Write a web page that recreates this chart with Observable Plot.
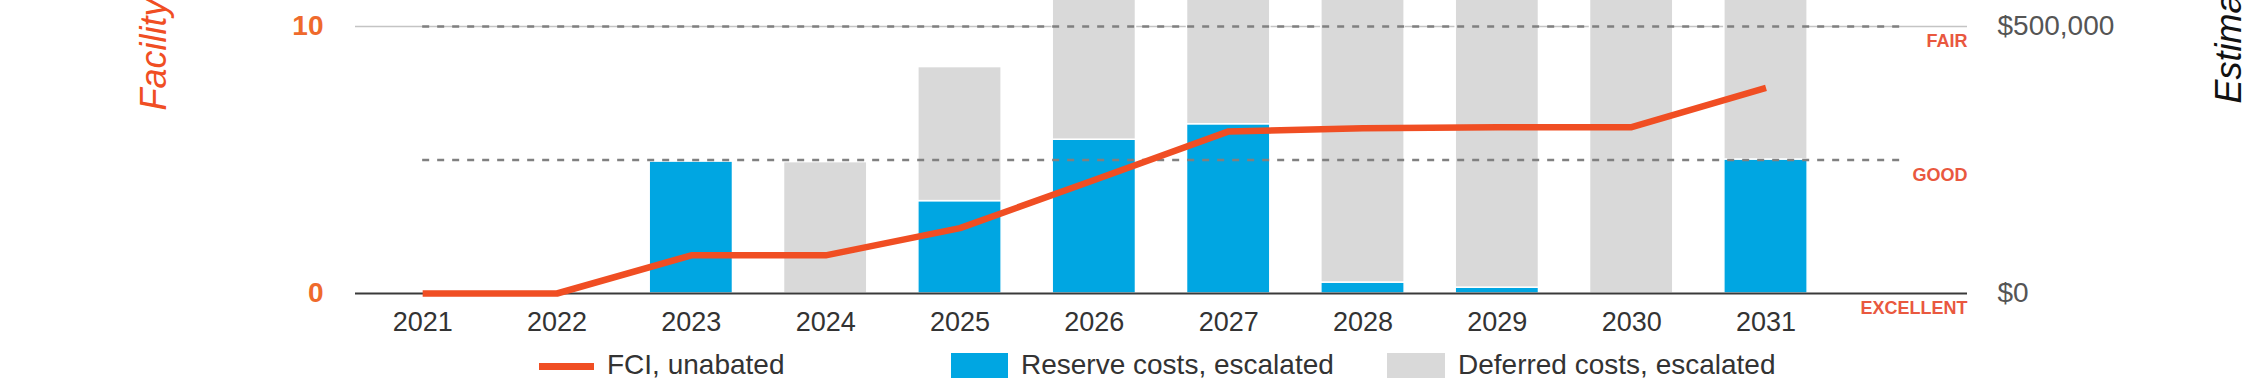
<!DOCTYPE html>
<html>
<head>
<meta charset="utf-8">
<script src="https://cdn.jsdelivr.net/npm/d3@7"></script>
<script src="https://cdn.jsdelivr.net/npm/@observablehq/plot@0.6"></script>
<style>
  html, body { margin: 0; padding: 0; background: #fff; }
  body { width: 2252px; height: 388px; overflow: hidden; font-family: "Liberation Sans", Arial, sans-serif; }
  #chart svg { display: block; }
  #legend { position: relative; width: 2252px; height: 48px; color: #333; font-size: 28px; }
  #legend .sw { position: absolute; }
  #legend .tx { position: absolute; line-height: 30px; top: 10px; white-space: nowrap; }
</style>
</head>
<body>
<div id="chart"></div>
<div id="legend">
  <div class="sw" style="left:539px; top:23px; width:55px; height:7px; background:#F04E23;"></div>
  <div class="tx" style="left:607px;">FCI, unabated</div>
  <div class="sw" style="left:951px; top:13px; width:57px; height:25px; background:#00A6E2;"></div>
  <div class="tx" style="left:1021px;">Reserve costs, escalated</div>
  <div class="sw" style="left:1387px; top:13px; width:58px; height:25px; background:#D9D9D9;"></div>
  <div class="tx" style="left:1458px;">Deferred costs, escalated</div>
</div>
<script>
// ---- data ----
const years = [2021, 2022, 2023, 2024, 2025, 2026, 2027, 2028, 2029, 2030, 2031];
const fci = [0, 0, 1.43, 1.43, 2.45, 4.25, 6.07, 6.19, 6.23, 6.23, 7.7];
const reserveCosts = [0, 0, 247000, 0, 173000, 288000, 317000, 20500, 11000, 0, 251000];
const deferredCosts = [0, 0, 0, 246000, 251000, 380000, 420000, 610000, 640000, 690000, 520000];
const leftTicks = [0, 10];
const levelValues = [0, 5, 10];
const levelLabels = ["EXCELLENT", "GOOD", "FAIR"];
const thresholds = [5, 10];
const dollarsPerPoint = 50000; // $500,000 on the right axis = 10 on the FCI axis
const leftTitle = "Facility Condition Index (FCI)";
const rightTitle = "Estimated Costs, Escalated";

// ---- derived tables ----
const half = 0.31;
const bars = years.flatMap((year, i) => {
  const r = reserveCosts[i] / dollarsPerPoint;
  const d = deferredCosts[i] / dollarsPerPoint;
  return [
    {year, kind: "Reserve", y1: 0, y2: r},
    {year, kind: "Deferred", y1: r, y2: r + d}
  ];
});
const fciRows = years.map((year, i) => ({year, fci: fci[i]}));
const levels = levelValues.map((v, i) => ({value: v, label: levelLabels[i]}));

const chart = Plot.plot({
  width: 2252,
  height: 340,
  marginLeft: 355,
  marginRight: 285,
  marginTop: 26,
  marginBottom: 47,
  style: {fontFamily: '"Liberation Sans", Arial, sans-serif', background: "white"},
  x: {type: "linear", domain: [years[0] - 0.5, years[years.length - 1] + 1.5]},
  y: {domain: [0, 10]},
  marks: [
    Plot.ruleY([10], {stroke: "#c4c4c4", strokeWidth: 1.5}),
    Plot.rect(bars.filter(d => d.kind === "Reserve" && d.y2 > d.y1), {
      x1: d => d.year - half, x2: d => d.year + half, y1: "y1", y2: "y2",
      fill: "#00A6E2", stroke: "white", strokeWidth: 1.5
    }),
    Plot.rect(bars.filter(d => d.kind === "Deferred" && d.y2 > d.y1), {
      x1: d => d.year - half, x2: d => d.year + half, y1: "y1", y2: "y2",
      fill: "#D9D9D9", stroke: "white", strokeWidth: 1.5
    }),
    Plot.ruleY(thresholds, {
      x1: years[0], x2: years[years.length - 1] + 1,
      stroke: "#808080", strokeWidth: 2.5, strokeDasharray: "7,8"
    }),
    Plot.ruleY([0], {stroke: "#3a3a3a", strokeWidth: 2}),
    Plot.line(fciRows, {
      x: "year", y: "fci", stroke: "#F04E23", strokeWidth: 6.5,
      strokeLinejoin: "round", strokeLinecap: "butt"
    }),
    Plot.text(levels, {
      y: "value", text: "label", frameAnchor: "right", textAnchor: "end",
      lineAnchor: "top", dy: 8, fontSize: 18, fontWeight: "bold", fill: "#E9583F"
    }),
    Plot.axisX({
      ticks: years, tickFormat: d => String(d), tickSize: 0, tickPadding: 18,
      fontSize: 27, color: "#333", label: null
    }),
    Plot.axisY({
      anchor: "left", ticks: leftTicks, tickSize: 0, tickPadding: 32,
      fontSize: 28, fontWeight: "bold", color: "#EF6A2C", label: null
    }),
    Plot.axisY({
      anchor: "right", ticks: leftTicks, tickFormat: d => d3.format("$,")(d * dollarsPerPoint),
      tickSize: 0, tickPadding: 30, fontSize: 28, color: "#555", label: null
    }),
    Plot.text([leftTitle], {
      frameAnchor: "top-left", rotate: -90, textAnchor: "start", dx: -215, dy: 84,
      fontSize: 36, fontStyle: "italic", fill: "#F04E23"
    }),
    Plot.text([rightTitle], {
      frameAnchor: "top-right", rotate: -90, textAnchor: "start", dx: 248, dy: 77,
      fontSize: 36, fontStyle: "italic", fill: "#111"
    })
  ]
});
document.getElementById("chart").appendChild(chart);
</script>
</body>
</html>
